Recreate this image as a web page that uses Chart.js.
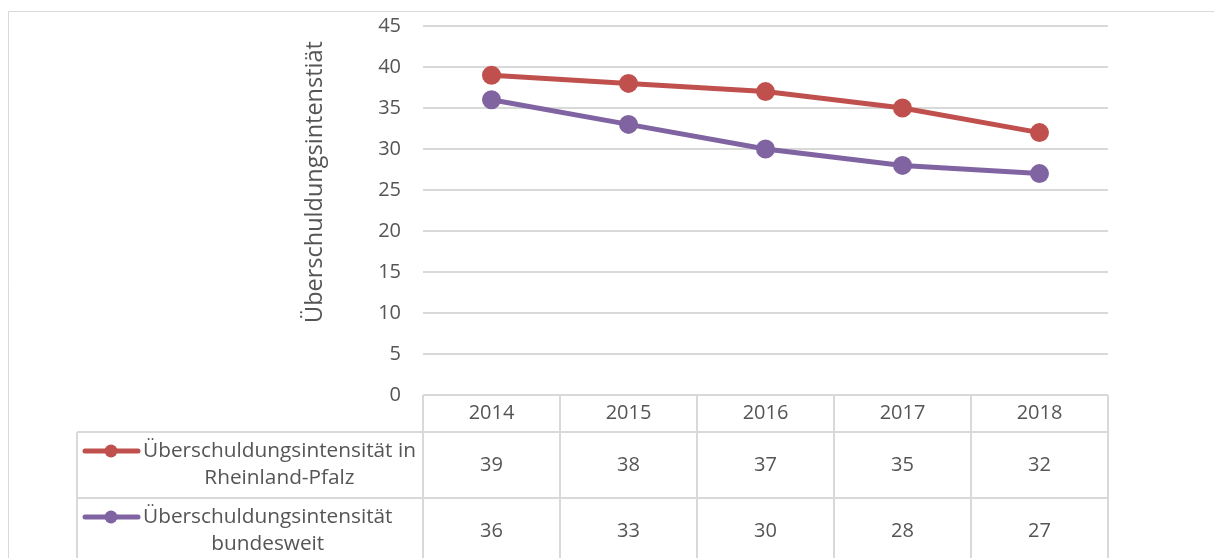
<!DOCTYPE html>
<html>
<head>
<meta charset="utf-8">
<script src="https://cdn.jsdelivr.net/npm/chart.js@4/dist/chart.umd.min.js"></script>
<style>
  html, body { margin: 0; padding: 0; background: #fff; }
  #wrap { width: 1214px; height: 558px; }
</style>
</head>
<body>
<div id="wrap"><canvas id="myChart" width="1214" height="558"></canvas></div>
<script>
// Jahre und Werte
const years = ['2014', '2015', '2016', '2017', '2018'];
const rheinlandPfalz = [39, 38, 37, 35, 32];
const bundesweit = [36, 33, 30, 28, 27];
const seriesLabels = [
  ['Überschuldungsintensität in', 'Rheinland-Pfalz'],
  ['Überschuldungsintensität', 'bundesweit']
];
const yTitle = 'Überschuldungsintenstiät';

const FONT = '"Open Sans", "DejaVu Sans", sans-serif';
const TEXT = '#555555';
const GRID = '#D9D9D9';

// Datentabelle unter dem Diagramm + Achsentitel + Rahmen
const dataTable = {
  id: 'dataTable',
  afterDraw(chart) {
    const ctx = chart.ctx;
    const xs = chart.scales.x;
    const area = chart.chartArea;
    const colW = (area.right - area.left) / years.length;
    const top = area.bottom;
    const headH = 37;
    const rowH = 66;
    const legendLeft = 77;

    ctx.save();
    // Rahmen
    ctx.strokeStyle = GRID;
    ctx.lineWidth = 1;
    ctx.beginPath();
    ctx.moveTo(8.5, chart.height);
    ctx.lineTo(8.5, 11.5);
    ctx.lineTo(chart.width, 11.5);
    ctx.stroke();

    // Achsentitel
    ctx.fillStyle = TEXT;
    ctx.font = '23.5px ' + FONT;
    ctx.textAlign = 'center';
    ctx.textBaseline = 'middle';
    ctx.translate(315, 182);
    ctx.rotate(-Math.PI / 2);
    ctx.fillText(yTitle, 0, 0);
    ctx.setTransform(1, 0, 0, 1, 0, 0);

    // Tabellenlinien
    ctx.strokeStyle = GRID;
    ctx.lineWidth = 2;
    ctx.beginPath();
    ctx.moveTo(area.left, top);
    ctx.lineTo(area.right, top);
    for (let r = 0; r <= seriesLabels.length; r++) {
      const y = top + headH + r * rowH;
      ctx.moveTo(legendLeft, y);
      ctx.lineTo(area.right, y);
    }
    ctx.moveTo(legendLeft, top + headH);
    ctx.lineTo(legendLeft, chart.height);
    for (let i = 0; i <= years.length; i++) {
      const x = area.left + i * colW;
      ctx.moveTo(x, top);
      ctx.lineTo(x, chart.height);
    }
    ctx.stroke();

    // Kopfzeile
    ctx.fillStyle = TEXT;
    ctx.font = '20px ' + FONT;
    ctx.textAlign = 'center';
    ctx.textBaseline = 'middle';
    years.forEach((y, i) => {
      ctx.fillText(y, xs.getPixelForValue(i), top + headH / 2);
    });

    // Datenzeilen
    chart.data.datasets.forEach((ds, r) => {
      const rowTop = top + headH + r * rowH;
      ctx.font = '20px ' + FONT;
      ds.data.forEach((v, i) => {
        ctx.fillText(String(v), xs.getPixelForValue(i), rowTop + rowH / 2);
      });
      // Legendensymbol
      const ly = rowTop + 19;
      ctx.strokeStyle = ds.borderColor;
      ctx.lineWidth = 5;
      ctx.lineCap = 'round';
      ctx.beginPath();
      ctx.moveTo(85, ly);
      ctx.lineTo(138, ly);
      ctx.stroke();
      ctx.fillStyle = ds.borderColor;
      ctx.beginPath();
      ctx.arc(111, ly, 6.5, 0, Math.PI * 2);
      ctx.fill();
      // Legendentext
      ctx.fillStyle = TEXT;
      ctx.font = '20.8px ' + FONT;
      const lines = seriesLabels[r];
      const w = Math.max(...lines.map(l => ctx.measureText(l).width));
      const cx = 143 + w / 2;
      lines.forEach((l, k) => {
        ctx.fillText(l, cx, ly + k * 27);
      });
    });
    ctx.restore();
  }
};

const ctx = document.getElementById('myChart');
new Chart(ctx, {
  type: 'line',
  data: {
    labels: years,
    datasets: [{
      label: seriesLabels[0].join(' '),
      data: rheinlandPfalz,
      borderColor: '#C0504D',
      backgroundColor: '#C0504D',
      borderWidth: 5,
      pointRadius: 7,
      pointHoverRadius: 7
    }, {
      label: seriesLabels[1].join(' '),
      data: bundesweit,
      borderColor: '#8064A2',
      backgroundColor: '#8064A2',
      borderWidth: 5,
      pointRadius: 7,
      pointHoverRadius: 7
    }]
  },
  options: {
    responsive: false,
    animation: false,
    layout: {
      padding: { left: 0, top: 26, right: 106, bottom: 163 }
    },
    plugins: {
      legend: { display: false },
      tooltip: { enabled: false }
    },
    scales: {
      x: {
        display: false,
        offset: true
      },
      y: {
        min: 0,
        max: 45,
        ticks: {
          stepSize: 5,
          padding: 0,
          color: TEXT,
          font: { family: FONT, size: 20 }
        },
        grid: { color: GRID, lineWidth: 2, drawTicks: true, tickLength: 22, tickColor: 'rgba(0,0,0,0)' },
        border: { display: false },
        afterFit(scale) { scale.width = 423; }
      }
    }
  },
  plugins: [dataTable]
});
</script>
</body>
</html>
